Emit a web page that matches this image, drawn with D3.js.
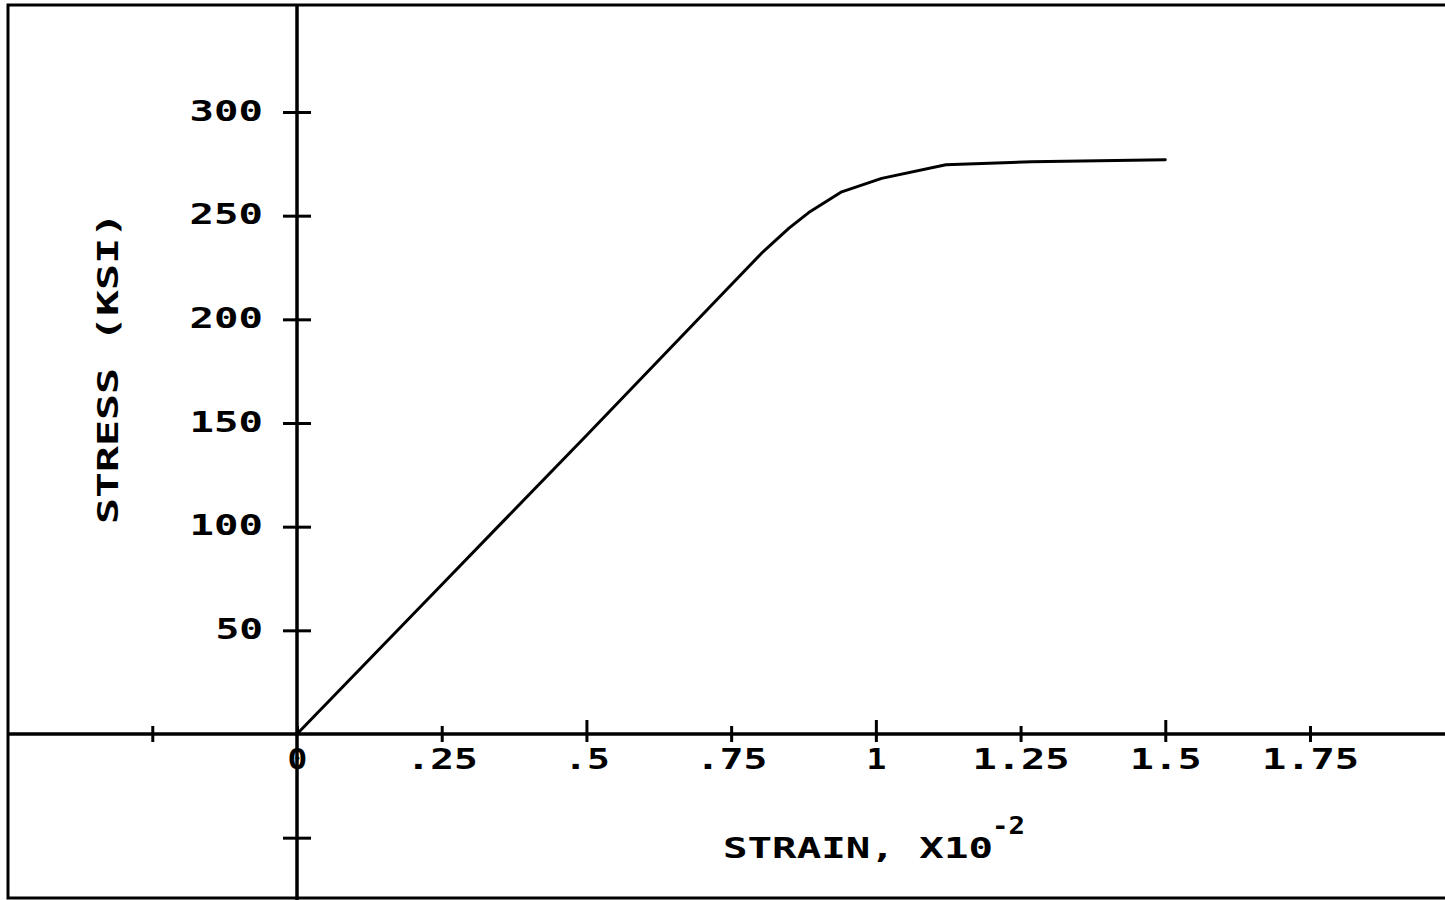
<!DOCTYPE html>
<html>
<head>
<meta charset="utf-8">
<script src="https://cdn.jsdelivr.net/npm/d3@7"></script>
<style>
  body { margin: 0; background: #fff; }
  svg { display: block; }
  .lbl { font-family: "DejaVu Sans Mono", monospace; font-weight: bold; fill: #000; }
</style>
</head>
<body>
<div id="chart"></div>
<script>
// stress-strain curve, strain in units of 1e-2, stress in ksi
const strain = [0, 0.25, 0.5, 0.741, 0.803, 0.85, 0.884, 0.941, 1.01, 1.121, 1.269, 1.5];
const stress = [0, 72, 144, 214, 232, 244, 251.5, 261.5, 268, 274.6, 276, 277];

const xTicks = [-0.25, 0, 0.25, 0.5, 0.75, 1, 1.25, 1.5, 1.75];
const xTickLabels = ["", "0", ".25", ".5", ".75", "1", "1.25", "1.5", "1.75"];
const xMajor = [0.5, 1, 1.5];
const yTicks = [-50, 0, 50, 100, 150, 200, 250, 300];
const yTickLabels = ["", "", "50", "100", "150", "200", "250", "300"];

const W = 1445, H = 900;
const PITCH = 25.8, GAP = 6;   // plotter lettering: fixed pitch per character
const textLen = s => s.length * PITCH - GAP;

const svg = d3.select("#chart").append("svg")
    .attr("width", W)
    .attr("height", H);

const x = d3.scaleLinear().domain([0, 1.75]).range([297, 1310]);
const y = d3.scaleLinear().domain([0, 300]).range([734, 112]);

// outer frame
svg.append("rect")
    .attr("x", 8).attr("y", 5)
    .attr("width", W + 10).attr("height", 893)
    .attr("fill", "none")
    .attr("stroke", "#000")
    .attr("stroke-width", 3);

// axis lines
svg.append("line")
    .attr("x1", 8).attr("x2", W)
    .attr("y1", y(0)).attr("y2", y(0))
    .attr("stroke", "#000").attr("stroke-width", 3.5);
svg.append("line")
    .attr("x1", x(0)).attr("x2", x(0))
    .attr("y1", 5).attr("y2", H)
    .attr("stroke", "#000").attr("stroke-width", 3.5);

// x axis ticks (cross the axis line)
const xAxis = d3.axisBottom(x)
    .tickValues(xTicks)
    .tickSize(7)
    .tickFormat((d, i) => xTickLabels[i]);

const gx = svg.append("g")
    .attr("transform", `translate(0,${y(0)})`)
    .call(xAxis);
gx.select(".domain").remove();
gx.selectAll(".tick line")
    .attr("stroke", "#000")
    .attr("stroke-width", 3)
    .attr("y1", d => xMajor.includes(d) ? -14 : -8)
    .attr("y2", d => d === 0 ? 0 : 8);
gx.selectAll(".tick text")
    .attr("class", "lbl")
    .attr("y", 35)
    .attr("dy", null)
    .attr("textLength", function() { return textLen(this.textContent); })
    .attr("lengthAdjust", "spacingAndGlyphs")
    .style("font-size", "29px");

// y axis ticks
const yAxis = d3.axisLeft(y)
    .tickValues(yTicks)
    .tickSize(15)
    .tickFormat((d, i) => yTickLabels[i]);

const gy = svg.append("g")
    .attr("transform", `translate(${x(0)},0)`)
    .call(yAxis);
gy.select(".domain").remove();
gy.selectAll(".tick line")
    .attr("stroke", "#000")
    .attr("stroke-width", 3)
    .attr("x1", d => d === 0 ? 0 : 14)
    .attr("x2", d => d === 0 ? 0 : -14);
gy.selectAll(".tick text")
    .attr("class", "lbl")
    .attr("x", -34)
    .attr("dy", 8)
    .attr("textLength", function() { return this.textContent ? textLen(this.textContent) + 2 : null; })
    .attr("lengthAdjust", "spacingAndGlyphs")
    .style("font-size", "29px");

// curve
const line = d3.line()
    .x(d => x(d[0]))
    .y(d => y(d[1]));

svg.append("path")
    .datum(strain.map((s, i) => [s, stress[i]]))
    .attr("fill", "none")
    .attr("stroke", "#000")
    .attr("stroke-width", 3)
    .attr("stroke-linejoin", "round")
    .attr("stroke-linecap", "round")
    .attr("d", line);

// axis titles
const xTitle = "STRAIN, X10";
svg.append("text")
    .attr("class", "lbl")
    .attr("x", 723)
    .attr("y", 858)
    .attr("textLength", 270)
    .attr("lengthAdjust", "spacingAndGlyphs")
    .style("font-size", "29px")
    .text(xTitle);
svg.append("text")
    .attr("class", "lbl")
    .attr("x", 992)
    .attr("y", 834)
    .attr("textLength", 33)
    .attr("lengthAdjust", "spacingAndGlyphs")
    .style("font-size", "25px")
    .text("-2");

const yTitle = "STRESS (KSI)";
svg.append("text")
    .attr("class", "lbl")
    .attr("transform", "translate(118,368) rotate(-90)")
    .attr("text-anchor", "middle")
    .attr("textLength", 312)
    .attr("lengthAdjust", "spacingAndGlyphs")
    .style("font-size", "29px")
    .text(yTitle);
</script>
</body>
</html>
